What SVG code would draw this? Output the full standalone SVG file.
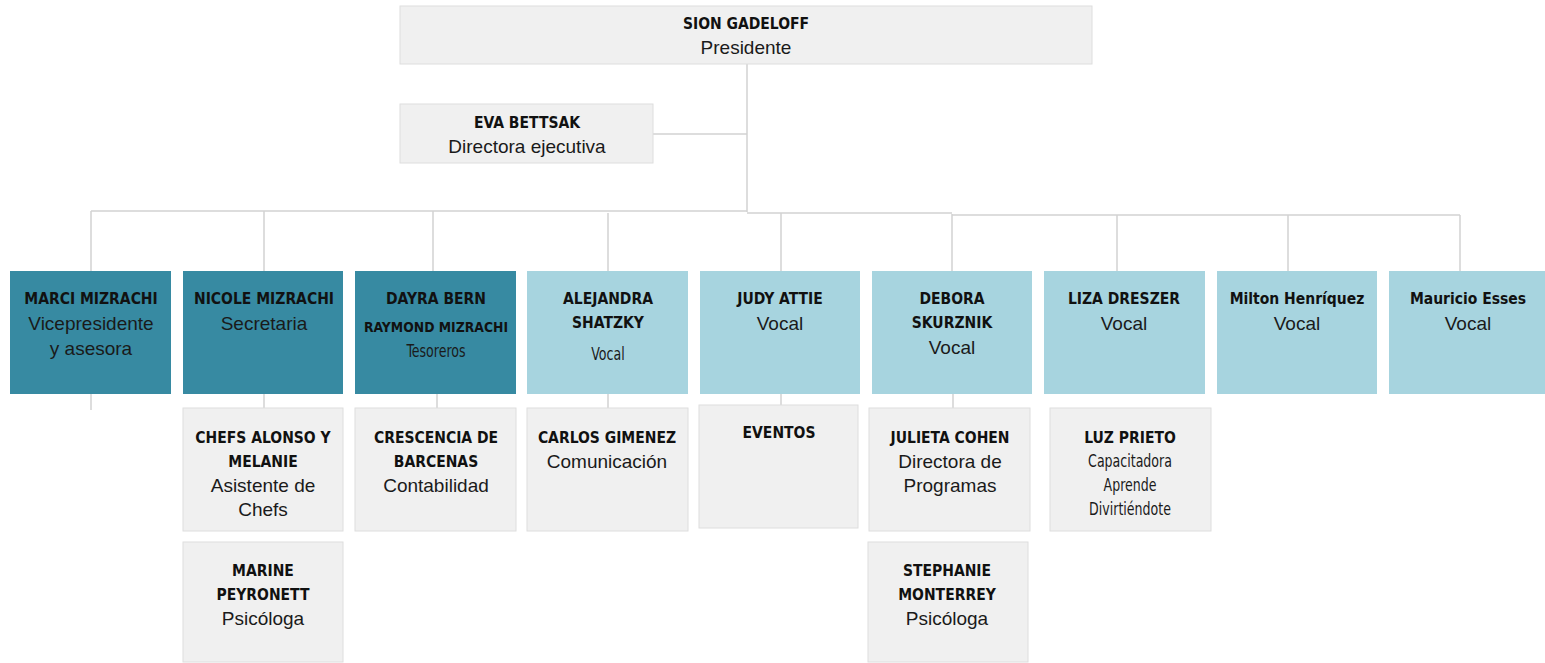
<svg xmlns="http://www.w3.org/2000/svg" width="1545" height="663" viewBox="0 0 1545 663">
<style>
.g{fill:#f0f0f0;stroke:#dedede;stroke-width:1}
.d{fill:#378aa2}
.l{fill:#a7d4df}
.n{font-family:"DejaVu Sans Condensed","DejaVu Sans",sans-serif;font-weight:bold;font-size:15.5px;fill:#111;text-anchor:middle}
.ns{font-family:"DejaVu Sans Condensed","DejaVu Sans",sans-serif;font-weight:bold;font-size:13.8px;fill:#111;text-anchor:middle}
.t{font-family:"Liberation Sans",Arial,sans-serif;font-size:19px;fill:#1a1a1a;text-anchor:middle}
.tc{font-family:"DejaVu Sans Condensed","DejaVu Sans",sans-serif;font-size:17.5px;fill:#1a1a1a;text-anchor:middle}
.c{stroke:#d2d2d2;stroke-width:1.5;fill:none}
</style>
<rect width="1545" height="663" fill="#fff"/>
<g id="connectors">
<path class="c" d="M747 64V212M653 134H747"/>
<path class="c" d="M91 211H747M747 213H952M952 215H1460"/>
<path class="c" d="M91 211V271M264 211V271M433 211V271M608 213V271M781 213V271M952 214V271M1117 215V271M1288 215V271M1460 215V271"/>
<path class="c" d="M91 394V410M264 394V408M437 394V408M608 394V408M781 394V405M953 394V408"/>
</g>
<g id="sion"><rect class="g" x="400" y="6" width="692" height="58"/><text class="n" x="746" y="29">SION GADELOFF</text><text class="t" x="746" y="54">Presidente</text></g>
<g id="eva"><rect class="g" x="400" y="104" width="253" height="59"/><text class="n" x="527" y="128">EVA BETTSAK</text><text class="t" x="527" y="153">Directora ejecutiva</text></g>
<g id="marci"><rect class="d" x="10" y="271" width="161" height="123"/><text class="n" x="91" y="304">MARCI MIZRACHI</text><text class="t" x="91" y="330">Vicepresidente</text><text class="t" x="91" y="355">y asesora</text></g>
<g id="nicole"><rect class="d" x="183" y="271" width="160" height="123"/><text class="n" x="264" y="304">NICOLE MIZRACHI</text><text class="t" x="264" y="330">Secretaria</text></g>
<g id="dayra"><rect class="d" x="355" y="271" width="161" height="123"/><text class="n" x="436" y="304">DAYRA BERN</text><text class="ns" x="436" y="332">RAYMOND MIZRACHI</text><text class="tc" transform="translate(436 357) scale(0.8 1)">Tesoreros</text></g>
<g id="alejandra"><rect class="l" x="527" y="271" width="161" height="123"/><text class="n" x="608" y="304">ALEJANDRA</text><text class="n" x="608" y="328">SHATZKY</text><text class="tc" transform="translate(608 360) scale(0.8 1)">Vocal</text></g>
<g id="judy"><rect class="l" x="700" y="271" width="160" height="123"/><text class="n" x="780" y="304">JUDY ATTIE</text><text class="t" x="780" y="330">Vocal</text></g>
<g id="debora"><rect class="l" x="872" y="271" width="160" height="123"/><text class="n" x="952" y="304">DEBORA</text><text class="n" x="952" y="328">SKURZNIK</text><text class="t" x="952" y="354">Vocal</text></g>
<g id="liza"><rect class="l" x="1044" y="271" width="161" height="123"/><text class="n" x="1124" y="304">LIZA DRESZER</text><text class="t" x="1124" y="330">Vocal</text></g>
<g id="milton"><rect class="l" x="1217" y="271" width="160" height="123"/><text class="n" x="1297" y="304">Milton Henríquez</text><text class="t" x="1297" y="330">Vocal</text></g>
<g id="mauricio"><rect class="l" x="1389" y="271" width="156" height="123"/><text class="n" x="1468" y="304">Mauricio Esses</text><text class="t" x="1468" y="330">Vocal</text></g>
<g id="chefs"><rect class="g" x="183" y="408" width="160" height="123"/><text class="n" x="263" y="443">CHEFS ALONSO Y</text><text class="n" x="263" y="467">MELANIE</text><text class="t" x="263" y="492">Asistente de</text><text class="t" x="263" y="516">Chefs</text></g>
<g id="marine"><rect class="g" x="183" y="542" width="160" height="120"/><text class="n" x="263" y="576">MARINE</text><text class="n" x="263" y="600">PEYRONETT</text><text class="t" x="263" y="625">Psicóloga</text></g>
<g id="crescencia"><rect class="g" x="355" y="408" width="161" height="123"/><text class="n" x="436" y="443">CRESCENCIA DE</text><text class="n" x="436" y="467">BARCENAS</text><text class="t" x="436" y="492">Contabilidad</text></g>
<g id="carlos"><rect class="g" x="527" y="408" width="161" height="123"/><text class="n" x="607" y="443">CARLOS GIMENEZ</text><text class="t" x="607" y="468">Comunicación</text></g>
<g id="eventos"><rect class="g" x="699" y="405" width="159" height="123"/><text class="n" x="779" y="438">EVENTOS</text></g>
<g id="julieta"><rect class="g" x="869" y="408" width="161" height="123"/><text class="n" x="950" y="443">JULIETA COHEN</text><text class="t" x="950" y="468">Directora de</text><text class="t" x="950" y="492">Programas</text></g>
<g id="stephanie"><rect class="g" x="868" y="542" width="160" height="120"/><text class="n" x="947" y="576">STEPHANIE</text><text class="n" x="947" y="600">MONTERREY</text><text class="t" x="947" y="625">Psicóloga</text></g>
<g id="luz"><rect class="g" x="1050" y="408" width="161" height="123"/><text class="n" x="1130" y="443">LUZ PRIETO</text><text class="tc" transform="translate(1130 467) scale(0.8 1)">Capacitadora</text><text class="tc" transform="translate(1130 491) scale(0.8 1)">Aprende</text><text class="tc" transform="translate(1130 515) scale(0.8 1)">Divirtiéndote</text></g>
</svg>
